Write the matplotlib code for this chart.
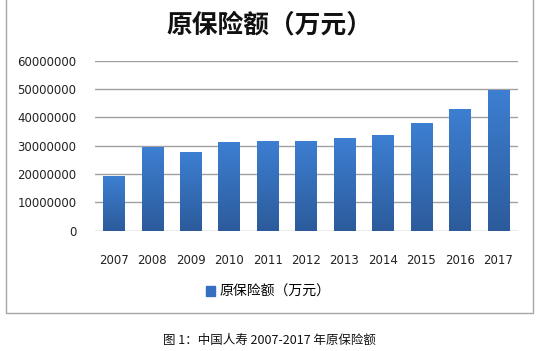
import matplotlib
matplotlib.use("Agg")
import matplotlib.pyplot as plt
import numpy as np
from matplotlib.patches import Rectangle
from matplotlib.colors import LinearSegmentedColormap

plt.rcParams['font.family'] = ['Noto Sans CJK SC', 'DejaVu Sans']

years = ['2007', '2008', '2009', '2010', '2011', '2012', '2013', '2014', '2015', '2016', '2017']
values = [19400000, 29400000, 27600000, 31400000, 31800000, 31800000, 32600000, 33800000, 38000000, 43000000, 49800000]
yticks = [0, 10000000, 20000000, 30000000, 40000000, 50000000, 60000000]
title = '原保险额（万元）'
legend_label = '原保险额（万元）'
caption = '图 1：中国人寿 2007-2017 年原保险额'

W, H = 544, 351
fig = plt.figure(figsize=(W / 100, H / 100), dpi=100)

# outer chart frame
frame = Rectangle((5.7 / W, (H - 313.3) / H), (533.3 - 5.7) / W, 1.0,
                  transform=fig.transFigure, fill=False, edgecolor='#a6a6a6', linewidth=1.0)
fig.add_artist(frame)

ax = fig.add_axes([94.6 / W, (H - 230.7) / H, (517.5 - 94.6) / W, (230.7 - 60.7) / H])
x = np.arange(len(years))
bars = ax.bar(x, values, width=0.56, color='#3470bf', zorder=2, label=legend_label)

# vertical gradient fill for each bar
grad = np.linspace(0, 1, 256).reshape(-1, 1)
cmap = LinearSegmentedColormap.from_list('g', ['#2c5b9b', '#3d7fd2'])
for b in bars:
    x0, w, h = b.get_x(), b.get_width(), b.get_height()
    im = ax.imshow(grad, extent=[x0, x0 + w, 0, h], origin='lower', cmap=cmap,
                   aspect='auto', zorder=3)
    im.set_clip_path(b)

ax.set_xlim(-0.5, len(years) - 0.5)
ax.set_ylim(0, 60000000)
ax.set_yticks(yticks)
ax.set_yticklabels([str(v) for v in yticks], fontsize=8.5, family='DejaVu Sans', color='#222222')
ax.set_xticks(x)
ax.set_xticklabels(years, fontsize=8.5, family='DejaVu Sans', color='#222222')
ax.tick_params(length=0)
ax.tick_params(axis='y', pad=13)
ax.tick_params(axis='x', pad=17)
for s in ax.spines.values():
    s.set_visible(False)
ax.yaxis.grid(True, color='#a0a0a0', linewidth=1.0, zorder=0)
ax.set_axisbelow(True)

fig.text(269.5 / W, (H - 25) / H, title, ha='center', va='center', fontsize=18.5,
         fontweight='semibold', color='#111111')

handles = [Rectangle((0, 0), 1, 1, color='#3470bf')]
fig.legend(handles, [legend_label], loc='center', bbox_to_anchor=(268 / W, (H - 291.7) / H),
           frameon=False, handlelength=0.7, handleheight=0.7, handletextpad=0.3,
           prop={'family': ['Noto Sans CJK SC', 'DejaVu Sans'], 'size': 10})

fig.text(269 / W, (H - 340) / H, caption, ha='center', va='center', fontsize=9,
         fontweight='medium', color='#111111')

fig.savefig('out.png', dpi=100)
